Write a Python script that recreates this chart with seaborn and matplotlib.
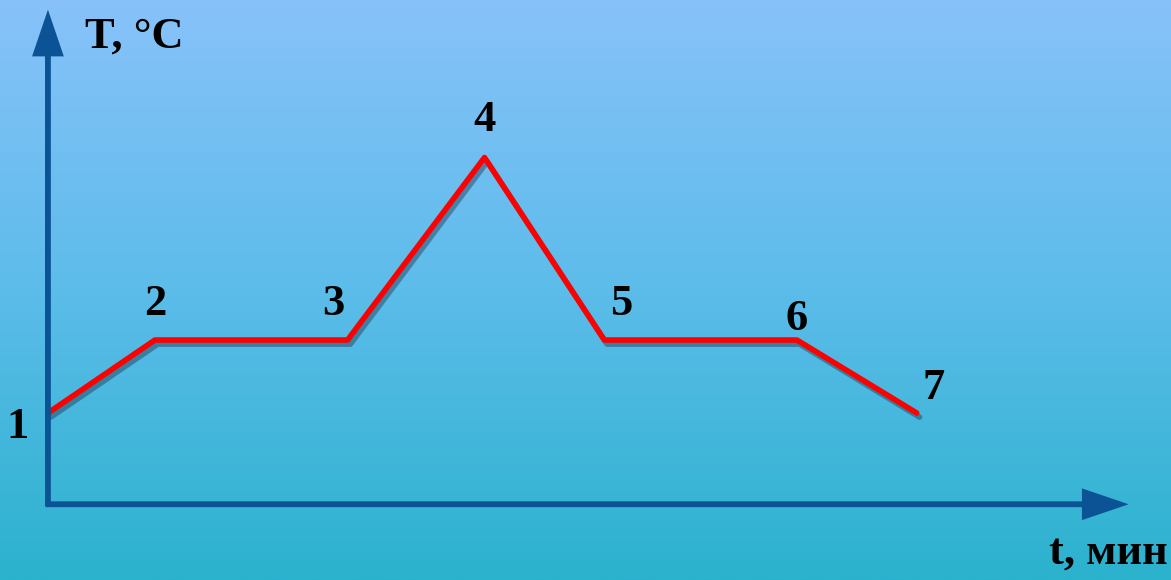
import numpy as np
import pandas as pd
import seaborn as sns
import matplotlib.pyplot as plt
import matplotlib.patheffects as pe
from matplotlib.colors import LinearSegmentedColormap

# heating / cooling curve points (time, temperature)
t_vals = [0, 5, 14, 20.4, 26, 35, 40.6]
T_vals = [20, 40, 40, 90, 40, 40, 20]
point_labels = ['1', '2', '3', '4', '5', '6', '7']

df = pd.DataFrame({'t': t_vals, 'T': T_vals})

sns.set_style("white")
plt.rcParams['font.family'] = ['Liberation Serif', 'DejaVu Serif']

fig = plt.figure(figsize=(11.71, 5.8), dpi=100)

# gradient background
bg = fig.add_axes([0, 0, 1, 1])
cmap = LinearSegmentedColormap.from_list('bg', ['#88c2fa', '#5cbcea', '#2bb2cd'])
bg.imshow(np.linspace(0, 1, 256).reshape(-1, 1), aspect='auto', cmap=cmap, extent=[0, 1, 0, 1])
bg.axis('off')

ax = fig.add_axes([0, 0, 1, 1])
ax.patch.set_alpha(0)
ax.set_xlim(-2.24, 52.48)
ax.set_ylim(-25.75, 133.15)
ax.axis('off')

ax_col = '#0b5394'
x0, y0 = 0, -5.0
arr = dict(arrowstyle='-|>,head_length=2.5,head_width=0.85', color=ax_col, lw=4.2,
           shrinkA=0, shrinkB=0, mutation_scale=10, joinstyle='miter', capstyle='butt')
# axes with arrows
ax.annotate('', xy=(0, 130.5), xytext=(x0, y0 - 0.6), arrowprops=arr)
ax.annotate('', xy=(50.5, y0), xytext=(x0 - 0.1, y0), arrowprops=arr)

sns.lineplot(data=df, x='t', y='T', ax=ax, color='#ff0000', linewidth=4,
             path_effects=[pe.SimpleLineShadow(offset=(2, -3), shadow_color='#1a3a55', alpha=0.45),
                           pe.Normal()])

offsets = [(-22, -10), (0, 26), (-10, 26), (0, 27), (12, 26), (0, 15), (12, 18)]
for tx, ty, lab, off in zip(t_vals, T_vals, point_labels, offsets):
    ax.annotate(lab, xy=(tx, ty), xytext=off, textcoords='offset points',
                ha='center', va='center', fontsize=32, fontweight='bold', color='black')

fig.text(85 / 1171, 1 - 37 / 580, 'T, °C', ha='left', va='center', fontsize=32,
         fontweight='bold', color='black')
fig.text(1168 / 1171, 1 - 553 / 580, 't, мин', ha='right', va='center', fontsize=32,
         fontweight='bold', color='black')

fig.savefig('out.png', dpi=100)
